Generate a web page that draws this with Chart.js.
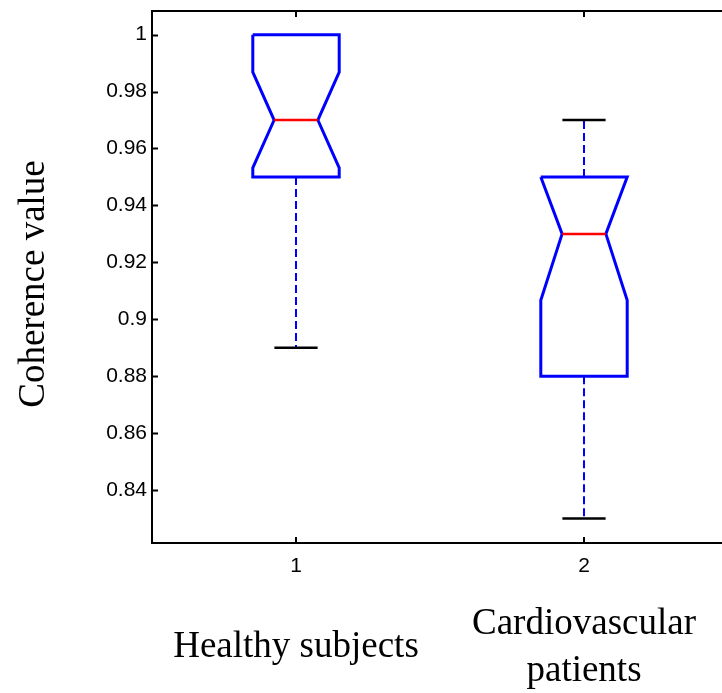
<!DOCTYPE html>
<html>
<head>
<meta charset="utf-8">
<title>Coherence value</title>
<script src="https://cdn.jsdelivr.net/npm/chart.js@4/dist/chart.umd.min.js"></script>
<style>
    html, body { margin: 0; padding: 0; background: #fff; overflow: hidden; }
    #wrap { position: absolute; left: 0; top: 0; }
</style>
</head>
<body>
<div id="wrap"><canvas id="boxChart" width="730" height="693"></canvas></div>
<script>
// 分组与箱线图统计量
const categories = [['Healthy subjects'], ['Cardiovascular', 'patients']];
const positions = [1, 2];
const q1 = [0.95, 0.88];
const medians = [0.97, 0.93];
const q3 = [1.0, 0.95];
const notchLow = [0.9532, 0.9067];
const notchHigh = [0.9868, 0.9533];
const whiskerLow = [0.89, 0.83];
const whiskerHigh = [1.0, 0.97];

// 坐标轴刻度
const xTicks = [1, 2];
const yTicks = [0.84, 0.86, 0.88, 0.9, 0.92, 0.94, 0.96, 0.98, 1];

const BLUE = '#0000ff';
const RED = '#ff0000';
const BLACK = '#000000';
const boxHalf = 0.15;    // 箱体半宽 (x 轴单位)
const notchHalf = 0.076; // 凹口处半宽
const capHalf = 0.075;   // 须线端帽半宽

// 生成带凹口的箱体轮廓
function boxOutline(i) {
    const x = positions[i];
    const hi = Math.min(notchHigh[i], q3[i]);
    const lo = Math.max(notchLow[i], q1[i]);
    return [
        { x: x - boxHalf, y: q3[i] },
        { x: x - boxHalf, y: hi },
        { x: x - notchHalf, y: medians[i] },
        { x: x - boxHalf, y: lo },
        { x: x - boxHalf, y: q1[i] },
        { x: x + boxHalf, y: q1[i] },
        { x: x + boxHalf, y: lo },
        { x: x + notchHalf, y: medians[i] },
        { x: x + boxHalf, y: hi },
        { x: x + boxHalf, y: q3[i] },
        { x: x - boxHalf, y: q3[i] },
    ];
}

function lineSet(data, color, width, dash, order) {
    return {
        data: data,
        showLine: true,
        borderColor: color,
        borderWidth: width,
        borderDash: dash,
        pointRadius: 0,
        fill: false,
        tension: 0,
        order: order,
    };
}

const datasets = [];
positions.forEach((x, i) => {
    // 须线（虚线）和端帽，须线长度为零时不画
    if (whiskerHigh[i] > q3[i]) {
        datasets.push(lineSet([{ x: x, y: q3[i] }, { x: x, y: whiskerHigh[i] }], BLUE, 2, [8, 4], 5));
        datasets.push(lineSet([{ x: x - capHalf, y: whiskerHigh[i] }, { x: x + capHalf, y: whiskerHigh[i] }], BLACK, 2.5, [], 4));
    }
    if (whiskerLow[i] < q1[i]) {
        datasets.push(lineSet([{ x: x, y: q1[i] }, { x: x, y: whiskerLow[i] }], BLUE, 2, [8, 4], 5));
        datasets.push(lineSet([{ x: x - capHalf, y: whiskerLow[i] }, { x: x + capHalf, y: whiskerLow[i] }], BLACK, 2.5, [], 4));
    }
    // 箱体
    datasets.push(lineSet(boxOutline(i), BLUE, 3, [], 2));
    // 中位数
    datasets.push(lineSet([{ x: x - notchHalf, y: medians[i] }, { x: x + notchHalf, y: medians[i] }], RED, 2.5, [], 1));
});

// 坐标框、向内刻度和文字
const framePlugin = {
    id: 'frame',
    afterDraw(chart) {
        const ctx = chart.ctx;
        const area = chart.chartArea;
        const xs = chart.scales.x;
        const ys = chart.scales.y;
        ctx.save();
        ctx.strokeStyle = BLACK;
        ctx.lineWidth = 2;
        ctx.strokeRect(area.left, area.top, area.right - area.left, area.bottom - area.top);

        ctx.beginPath();
        yTicks.forEach(v => {
            const py = Math.round(ys.getPixelForValue(v)) + 0.5;
            ctx.moveTo(area.left, py);
            ctx.lineTo(area.left + 6, py);
            ctx.moveTo(area.right, py);
            ctx.lineTo(area.right - 6, py);
        });
        xTicks.forEach(v => {
            const px = Math.round(xs.getPixelForValue(v));
            ctx.moveTo(px, area.bottom);
            ctx.lineTo(px, area.bottom - 6);
            ctx.moveTo(px, area.top);
            ctx.lineTo(px, area.top + 6);
        });
        ctx.stroke();

        // 分组名称
        ctx.fillStyle = BLACK;
        ctx.font = '37px "Liberation Serif", "Times New Roman", serif';
        ctx.textAlign = 'center';
        ctx.textBaseline = 'alphabetic';
        const lineH = 47;
        categories.forEach((lines, i) => {
            const px = xs.getPixelForValue(positions[i]);
            const base = area.bottom + 114 - (lines.length - 1) * lineH / 2;
            lines.forEach((t, k) => ctx.fillText(t, px, base + k * lineH));
        });

        // 纵轴标题
        ctx.translate(44, 284);
        ctx.rotate(-Math.PI / 2);
        ctx.fillText('Coherence value', 0, 0);
        ctx.restore();
    },
};

new Chart(document.getElementById('boxChart').getContext('2d'), {
    type: 'scatter',
    data: { datasets: datasets },
    options: {
        responsive: false,
        animation: false,
        layout: { padding: { left: 0, top: 11, right: 2, bottom: 0 } },
        plugins: {
            legend: { display: false },
            tooltip: { enabled: false },
        },
        scales: {
            x: {
                type: 'linear',
                min: 0.5,
                max: 2.5,
                afterFit: scale => {
                    scale.height = 150;
                    scale.paddingLeft = 0;
                    scale.paddingRight = 0;
                },
                afterBuildTicks: scale => { scale.ticks = xTicks.map(v => ({ value: v })); },
                grid: { display: false, drawTicks: false },
                border: { display: false },
                ticks: {
                    color: BLACK,
                    padding: 11,
                    maxRotation: 0,
                    font: { family: '"Liberation Sans", Arial, sans-serif', size: 21 },
                    callback: v => String(v),
                },
            },
            y: {
                type: 'linear',
                min: 0.8214,
                max: 1.0083,
                afterFit: scale => {
                    scale.width = 152;
                    scale.paddingTop = 0;
                    scale.paddingBottom = 0;
                },
                afterBuildTicks: scale => { scale.ticks = yTicks.map(v => ({ value: v })); },
                grid: { display: false, drawTicks: false },
                border: { display: false },
                ticks: {
                    color: BLACK,
                    padding: 5,
                    font: { family: '"Liberation Sans", Arial, sans-serif', size: 21 },
                    callback: v => String(+v.toFixed(2)),
                },
            },
        },
    },
    plugins: [framePlugin],
});
</script>
</body>
</html>
